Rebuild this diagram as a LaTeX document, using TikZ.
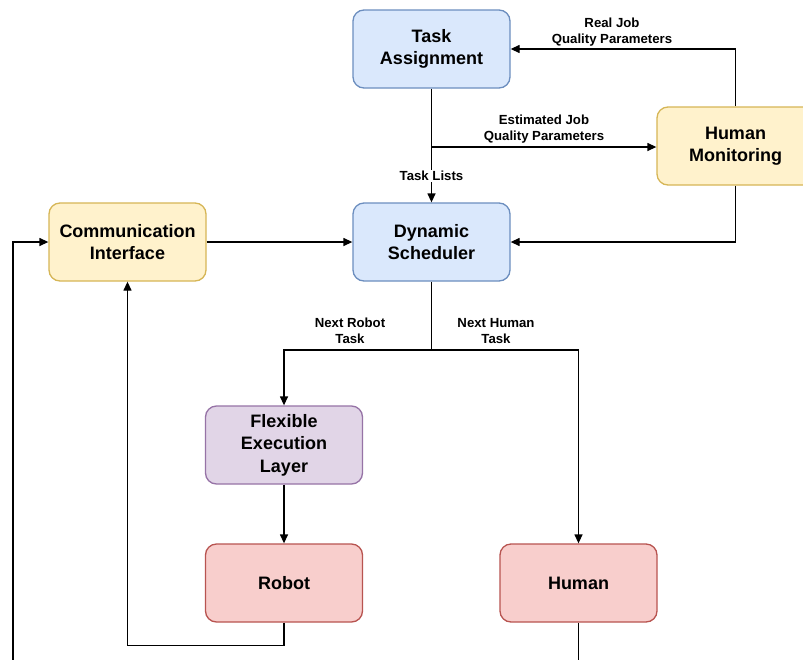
\documentclass[tikz,border=0pt]{standalone}
\usepackage{fontspec}
\setmainfont{Liberation Sans}
\usetikzlibrary{arrows.meta}
\definecolor{bluefill}{HTML}{DAE8FC}\definecolor{bluedraw}{HTML}{6C8EBF}
\definecolor{yelfill}{HTML}{FFF2CC}\definecolor{yeldraw}{HTML}{D6B656}
\definecolor{purfill}{HTML}{E1D5E7}\definecolor{purdraw}{HTML}{9673A6}
\definecolor{redfill}{HTML}{F8CECC}\definecolor{reddraw}{HTML}{B85450}
\tikzset{
  box/.style={rectangle, rounded corners=11pt, line width=1.3pt, minimum width=157pt, minimum height=78pt,
    align=center, font=\fontsize{18}{22.5}\selectfont\bfseries, inner sep=0pt},
  bluebox/.style={box, fill=bluefill, draw=bluedraw},
  yelbox/.style={box, fill=yelfill, draw=yeldraw},
  purbox/.style={box, fill=purfill, draw=purdraw},
  redbox/.style={box, fill=redfill, draw=reddraw},
  conn/.style={line width=1.3pt, -{Triangle[length=9pt,width=8pt]}},
  plain/.style={line width=1.3pt},
  lbl/.style={font=\fontsize{13.2}{16.5}\selectfont\bfseries, align=center, inner sep=1pt}
}
\begin{document}
\begin{tikzpicture}[x=1pt,y=-1pt]
\useasboundingbox (0,0) rectangle (803,659);
\clip (0,0) rectangle (803,659);
\fill[white] (0,0) rectangle (803,659);
\node[bluebox] (ta) at (431.5,49) {Task\\Assignment};
\node[yelbox] (hm) at (735.5,146) {Human\\Monitoring};
\node[yelbox] (ci) at (127.5,242) {Communication\\Interface};
\node[bluebox] (ds) at (431.5,242) {Dynamic\\Scheduler};
\node[purbox] (fe) at (284,445) {Flexible\\Execution\\Layer};
\node[redbox] (rb) at (284,583) {Robot};
\node[redbox] (hu) at (578.5,583) {Human};
\coordinate (split1) at (431.5,147);
\coordinate (split2) at (431.5,350);
\coordinate (offb) at (578.5,700);
\coordinate (offl) at (13,700);
% Task Assignment -> Dynamic Scheduler
\draw[conn] (ta.south) -- (ds.north);
\node[lbl, fill=white] (tl) at (431.5,176) {Task Lists};
% Estimated
\draw[conn] (split1) -- (split1 -| hm.west);
\node[lbl] (est) at (544,129) {Estimated Job\\Quality Parameters};
% Real
\draw[conn] (hm.north) |- (ta.east);
\node[lbl] (real) at (612,32) {Real Job\\Quality Parameters};
% HM -> DS
\draw[conn] (hm.south) |- (ds.east);
% CI -> DS
\draw[conn] (ci.east) -- (ds.west);
% DS -> branches
\draw[plain] (ds.south) -- (split2);
\draw[conn] (split2) -| (fe.north);
\draw[conn] (split2) -| (hu.north);
\node[lbl] (nr) at (350,331) {Next Robot\\Task};
\node[lbl] (nh) at (496,331) {Next Human\\Task};
% FE -> Robot
\draw[conn] (fe.south) -- (rb.north);
% Robot -> CI
\draw[conn] (rb.south) -- ++(0,23) -| (ci.south);
% Human -> CI (around, off page)
\draw[conn] (hu.south) -- (offb) -- (offl) |- (ci.west);
\end{tikzpicture}
\end{document}
